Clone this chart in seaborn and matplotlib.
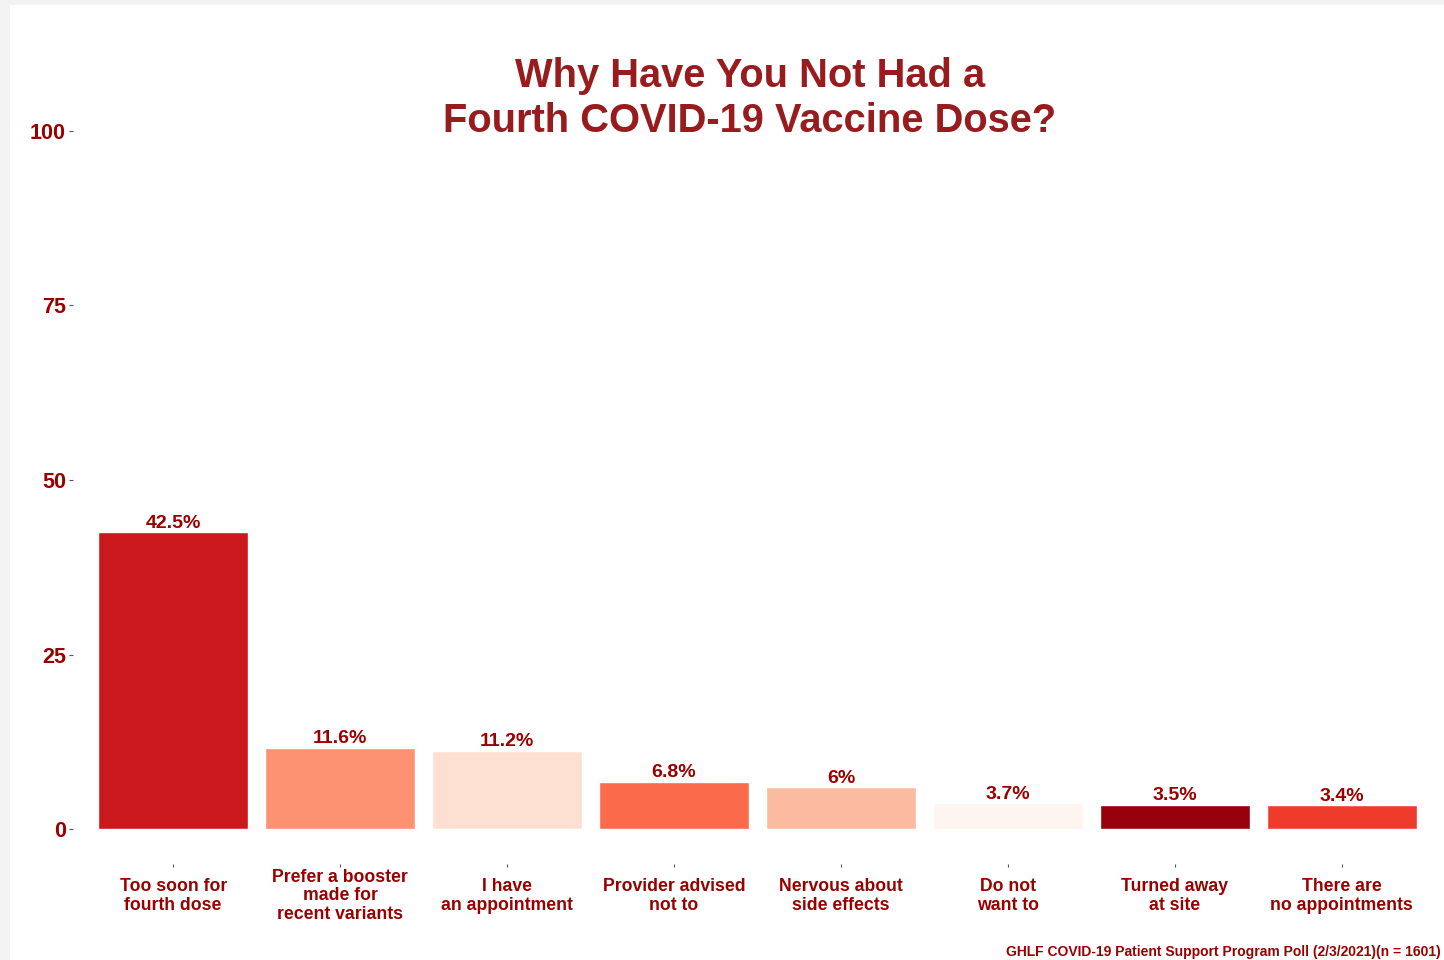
import matplotlib
matplotlib.use("Agg")
import matplotlib.pyplot as plt
from matplotlib.patches import Rectangle
import seaborn as sns
import pandas as pd

categories = [
    "Too soon for\nfourth dose",
    "Prefer a booster\nmade for\nrecent variants",
    "I have\nan appointment",
    "Provider advised\nnot to",
    "Nervous about\nside effects",
    "Do not\nwant to",
    "Turned away\nat site",
    "There are\nno appointments",
]
values = [42.5, 11.6, 11.2, 6.8, 6.0, 3.7, 3.5, 3.4]
value_labels = ["42.5%", "11.6%", "11.2%", "6.8%", "6%", "3.7%", "3.5%", "3.4%"]
bar_colors = ["#cb181d", "#fc9272", "#fee0d2", "#fb6a4a",
              "#fcbba1", "#fff5f0", "#99000d", "#ef3b2c"]
y_ticks = [0, 25, 50, 75, 100]

title = "Why Have You Not Had a\nFourth COVID-19 Vaccine Dose?"
caption = "GHLF COVID-19 Patient Support Program Poll (2/3/2021)(n = 1601)"

dark_red = "#990000"
title_red = "#981b1e"

sns.set_theme(style="white")
plt.rcParams["font.family"] = ["Liberation Sans", "DejaVu Sans"]

W, H = 1444, 960
fig = plt.figure(figsize=(W / 100, H / 100), dpi=100, facecolor="#f3f3f3")
# white panel inside the light grey frame
fig.patches.append(Rectangle((10 / W, 0), 1 - 10 / W, 1 - 5 / H,
                             transform=fig.transFigure, facecolor="white",
                             edgecolor="none", zorder=-10))

ax = fig.add_axes([73 / W, (H - 864) / H, (1442 - 73) / W, (864 - 96) / H])
ax.set_facecolor("none")
ax.set_zorder(1)

df = pd.DataFrame({"reason": categories, "pct": values})
sns.barplot(data=df, x="reason", y="pct", hue="reason",
            palette=dict(zip(categories, bar_colors)), order=categories,
            width=0.9, legend=False, ax=ax, saturation=1)

for cont, lab in zip(ax.containers, value_labels):
    ax.bar_label(cont, labels=[lab], padding=0.5, color=dark_red,
                 fontsize=14, fontweight="bold")

ax.set_xlim(-0.6, len(categories) - 0.4)
ax.set_ylim(-5, 105)
ax.set_yticks(y_ticks)
ax.set_yticklabels([str(t) for t in y_ticks])
ax.set_xlabel("")
ax.set_ylabel("")
for s in ax.spines.values():
    s.set_visible(False)

ax.tick_params(axis="y", length=3, width=0.8, color="#555555", pad=2,
               labelsize=15.5, labelcolor=dark_red, left=True)
ax.tick_params(axis="x", length=2, width=0.8, color="#555555", pad=21,
               labelsize=12.7, labelcolor=dark_red, bottom=True)
for t in ax.get_yticklabels():
    t.set_fontweight("bold")
for t in ax.get_xticklabels():
    t.set_fontweight("bold")
    t.set_verticalalignment("center")
    t.set_linespacing(1.12)

fig.text(750 / W, 1 - 57 / H, title, ha="center", va="top", fontsize=28.7,
         fontweight="bold", color=title_red, linespacing=1.25, zorder=2)
fig.text(1441 / W, 1 - 956 / H, caption, ha="right", va="baseline",
         fontsize=10, fontweight="bold", color=dark_red, zorder=2)

fig.savefig("out.png", dpi=100, facecolor=fig.get_facecolor())
